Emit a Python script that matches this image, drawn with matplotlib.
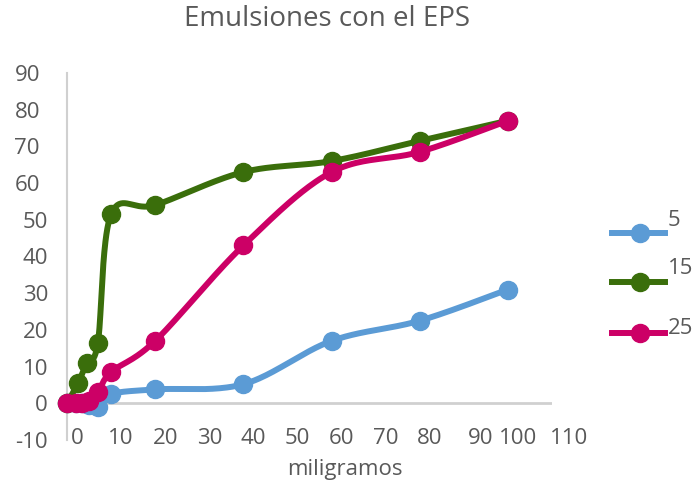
import numpy as np
import matplotlib
matplotlib.use("Agg")
import matplotlib.pyplot as plt
from matplotlib.lines import Line2D
from matplotlib.transforms import ScaledTranslation

plt.rcParams['font.family'] = ['Open Sans', 'DejaVu Sans']
plt.rcParams['axes.unicode_minus'] = False

# mg of EPS vs. emulsion index for each concentration
mg_5 = [0, 2, 3.5, 5, 7, 10, 20, 40, 60, 80, 100]
eps_5 = [0, 0, 0, -0.5, -1, 2.5, 3.8, 5.2, 17, 22.5, 31]
mg_15 = [0, 2.5, 4.5, 7, 10, 20, 40, 60, 80, 100]
eps_15 = [0, 5.5, 11, 16.5, 51.5, 54, 63, 66, 71.5, 77]
mg_25 = [0, 2, 3.5, 5, 7, 10, 20, 40, 60, 80, 100]
eps_25 = [0, 0, 0, 0.5, 3, 8.5, 17, 43, 63, 68.5, 77]

series_labels = ['5', '15', '25']
x_ticks = list(range(0, 111, 10))
y_ticks = list(range(-10, 91, 10))

colors = ['#5b9bd5', '#3a6e0b', '#cc0066']
TEXT = '#595959'
GRID = '#d0d0d0'
W, H = 697, 488


def smooth_curve(ax, xs, ys, steps=40):
    # bezier smoothing done in screen space, like a spreadsheet "smoothed line"
    pts = ax.transData.transform(np.column_stack([xs, ys]))
    n = len(pts)
    t = np.linspace(0, 1, steps)[1:, None]
    out = [pts[0]]
    for i in range(n - 1):
        p0 = pts[max(i - 1, 0)]
        p1 = pts[i]
        p2 = pts[i + 1]
        p3 = pts[min(i + 2, n - 1)]
        c1 = p1 + (p2 - p0) / 6
        c2 = p2 - (p3 - p1) / 6
        seg = ((1 - t) ** 3) * p1 + 3 * ((1 - t) ** 2) * t * c1 \
            + 3 * (1 - t) * t ** 2 * c2 + t ** 3 * p2
        out.extend(seg)
    out = ax.transData.inverted().transform(np.array(out))
    return out[:, 0], out[:, 1]


fig = plt.figure(figsize=(W / 100, H / 100), dpi=100)
ax = fig.add_axes([67 / W, 1 - 440 / H, (552 - 67) / W, (440 - 73) / H])
ax.set_xlim(0, 110)
ax.set_ylim(-10, 90)

for side in ['top', 'right', 'bottom']:
    ax.spines[side].set_visible(False)
ax.spines['left'].set_color(GRID)
ax.spines['left'].set_linewidth(1.5)
ax.axhline(0, color=GRID, lw=2, zorder=1)

ax.set_xticks(x_ticks)
ax.set_yticks(y_ticks)
ax.tick_params(length=0, labelsize=16, labelcolor=TEXT)
ax.tick_params(axis='x', pad=-9)
ax.tick_params(axis='y', pad=13.7)

# x tick labels sit a little right of their ticks, 90 and 110 more so
for val, lbl in zip(x_ticks, ax.get_xticklabels()):
    dx = 0.10
    if val == 90:
        dx = 0.17
    elif val == 110:
        dx = 0.17
    lbl.set_transform(lbl.get_transform() + ScaledTranslation(dx, 0, fig.dpi_scale_trans))
shift_y = ScaledTranslation(-0.08, 0, fig.dpi_scale_trans)
for val, lbl in zip(y_ticks, ax.get_yticklabels()):
    if val >= 60:
        lbl.set_transform(lbl.get_transform() + shift_y)

ax.set_xlabel('miligramos', fontsize=16, color=TEXT)
ax.xaxis.set_label_coords(0.573, -0.08)
ax.xaxis.label.set_va('center')

data = [(mg_5, eps_5), (mg_15, eps_15), (mg_25, eps_25)]
for k, ((xs, ys), col) in enumerate(zip(data, colors)):
    sx, sy = smooth_curve(ax, xs, ys)
    ax.plot(sx, sy, color=col, lw=4.3, solid_capstyle='round', zorder=3 + k)
    ax.plot(xs, ys, 'o', ms=13, color=col, zorder=3 + k, clip_on=False)

fig.text(327 / W, 1 - 19 / H, 'Emulsiones con el EPS', ha='center', va='center',
         fontsize=20, color=TEXT)

# legend on the right
legend_line_y = [233, 282, 333]
legend_text_y = [221, 268, 328]
for lab, col, ly, ty in zip(series_labels, colors, legend_line_y, legend_text_y):
    fig.add_artist(Line2D([612 / W, 665 / W], [1 - ly / H] * 2, transform=fig.transFigure,
                          color=col, lw=4.3))
    fig.add_artist(Line2D([640 / W], [1 - ly / H], transform=fig.transFigure,
                          marker='o', ms=13, color=col))
    fig.text(668 / W, 1 - ty / H, lab, ha='left', va='center', fontsize=16, color=TEXT)

fig.savefig('out.png', dpi=100)
